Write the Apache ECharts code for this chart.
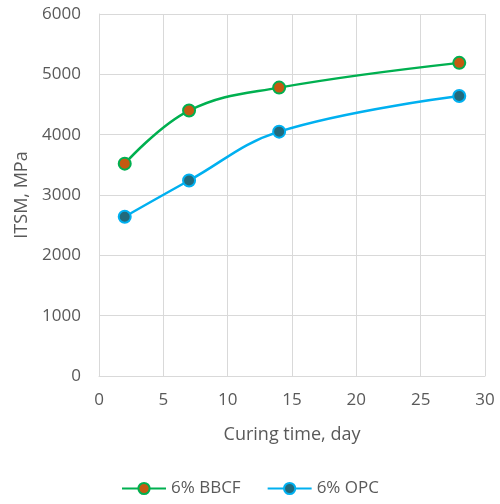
<!DOCTYPE html>
<html><head><meta charset="utf-8">
<script src="https://cdn.jsdelivr.net/npm/echarts@6/dist/echarts.min.js"></script>
<style>html,body{margin:0;padding:0;background:#fff}#c{width:500px;height:504px}</style>
</head><body><div id="c"></div>
<script>
const days = [2, 7, 14, 28];
const bbcf = [3520, 4400, 4780, 5190];
const opc = [2640, 3240, 4050, 4640];
const seriesNames = ['6% BBCF', '6% OPC'];
const xTitle = 'Curing time, day';
const yTitle = 'ITSM, MPa';

const font = '"Open Sans", "Noto Sans", sans-serif';
const chart = echarts.init(document.getElementById('c'), null, {renderer: 'canvas'});
chart.setOption({
  animation: false,
  grid: {left: 99, right: 15, top: 14, bottom: 128},
  legend: {
    bottom: 2, left: 'center', itemGap: 26, itemWidth: 44, itemHeight: 14,
    textStyle: {color: '#595959', fontSize: 17, fontFamily: font},
    data: seriesNames
  },
  xAxis: {
    type: 'value', min: 0, max: 30, interval: 5,
    name: xTitle, nameLocation: 'middle', nameGap: 50,
    nameTextStyle: {color: '#595959', fontSize: 18, fontFamily: font},
    axisLine: {show: true, lineStyle: {color: '#d9d9d9', width: 1}},
    axisTick: {show: false},
    axisLabel: {color: '#595959', fontSize: 17, fontFamily: font, margin: 16},
    splitLine: {show: true, lineStyle: {color: '#d9d9d9'}}
  },
  yAxis: {
    type: 'value', min: 0, max: 6000, interval: 1000,
    name: yTitle, nameLocation: 'middle', nameGap: 68,
    nameTextStyle: {color: '#595959', fontSize: 18, fontFamily: font},
    axisLine: {show: true, lineStyle: {color: '#d9d9d9', width: 1}},
    axisTick: {show: false},
    axisLabel: {color: '#595959', fontSize: 17, fontFamily: font, margin: 18, formatter: v => String(v)},
    splitLine: {show: true, lineStyle: {color: '#d9d9d9'}}
  },
  series: [
    {
      name: seriesNames[0], type: 'line', smooth: 0.4,
      data: days.map((d, i) => [d, bbcf[i]]),
      symbol: 'circle', symbolSize: 12,
      lineStyle: {color: '#00B050', width: 2.5},
      itemStyle: {color: '#C55A11', borderColor: '#00B050', borderWidth: 2}
    },
    {
      name: seriesNames[1], type: 'line', smooth: 0.4,
      data: days.map((d, i) => [d, opc[i]]),
      symbol: 'circle', symbolSize: 12,
      lineStyle: {color: '#00B0F0', width: 2.5},
      itemStyle: {color: '#236A7C', borderColor: '#00B0F0', borderWidth: 2}
    }
  ]
});
</script></body></html>
